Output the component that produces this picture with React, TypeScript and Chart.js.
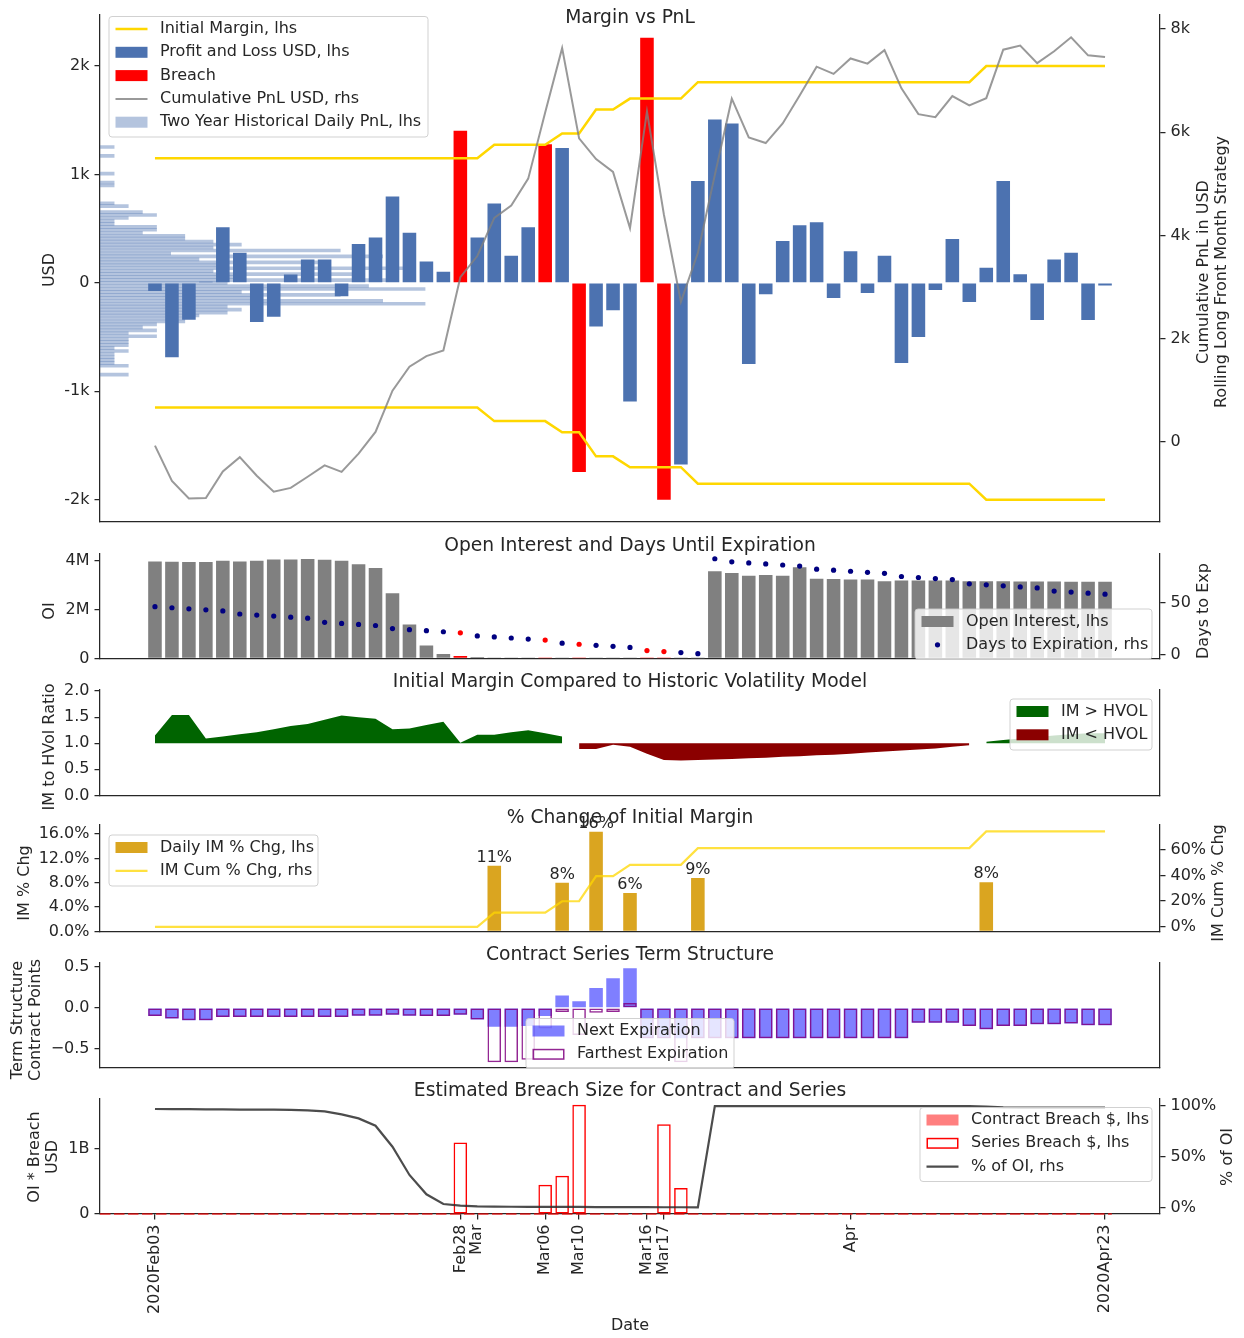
import { useEffect, useRef } from 'react';
import { Chart, registerables } from 'chart.js';

Chart.register(...registerables);

const FONT = "'DejaVu Sans', 'Liberation Sans', sans-serif";
const TEXT = '#262626';
const AXIS = '#262626';
const TICK_PX = 16;
const TITLE_PX = 18.7;
const LEFT_W = 100;
const RIGHT_W = 84;
const X_MIN = -3.24;
const X_MAX = 59.24;

// ---------------- trading calendar ----------------
const tradeDates = [
  '2020-02-03', '2020-02-04', '2020-02-05', '2020-02-06', '2020-02-07',
  '2020-02-10', '2020-02-11', '2020-02-12', '2020-02-13', '2020-02-14',
  '2020-02-18', '2020-02-19', '2020-02-20', '2020-02-21',
  '2020-02-24', '2020-02-25', '2020-02-26', '2020-02-27', '2020-02-28',
  '2020-03-02', '2020-03-03', '2020-03-04', '2020-03-05', '2020-03-06',
  '2020-03-09', '2020-03-10', '2020-03-11', '2020-03-12', '2020-03-13',
  '2020-03-16', '2020-03-17', '2020-03-18', '2020-03-19', '2020-03-20',
  '2020-03-23', '2020-03-24', '2020-03-25', '2020-03-26', '2020-03-27',
  '2020-03-30', '2020-03-31',
  '2020-04-01', '2020-04-02', '2020-04-03',
  '2020-04-06', '2020-04-07', '2020-04-08', '2020-04-09',
  '2020-04-13', '2020-04-14', '2020-04-15', '2020-04-16', '2020-04-17',
  '2020-04-20', '2020-04-21', '2020-04-22', '2020-04-23',
];

const breachDates = ['2020-02-28', '2020-03-06', '2020-03-10', '2020-03-16', '2020-03-17'];

const xTickDates: [string, string][] = [
  ['2020-02-03', '2020Feb03'],
  ['2020-02-28', 'Feb28'],
  ['2020-03-02', 'Mar'],
  ['2020-03-06', 'Mar06'],
  ['2020-03-10', 'Mar10'],
  ['2020-03-16', 'Mar16'],
  ['2020-03-17', 'Mar17'],
  ['2020-04-01', 'Apr'],
  ['2020-04-23', '2020Apr23'],
];

// ---------------- margin vs pnl ----------------
const pnlUsd = [
  -75, -686, -340, 10, 513, 278, -361, -312, 77, 216,
  216, -124, 358, 420, 797, 463, 198, 102, 1403, 420,
  732, 250, 513, 1279, 1245, -1745, -402, -253, -1094, 2261,
  -2000, -1675, 939, 1508, 1470, -748, -105, 386, 531, 559,
  -139, 293, -93, 250, -738, -500, -65, 405, -176, 139,
  939, 80, -343, 216, 278, -343, -25,
];

const initialMarginUsd = [
  1149, 1149, 1149, 1149, 1149, 1149, 1149, 1149, 1149, 1149,
  1149, 1149, 1149, 1149, 1149, 1149, 1149, 1149, 1149, 1149,
  1275, 1275, 1275, 1275, 1378, 1378, 1600, 1600, 1700, 1700,
  1700, 1700, 1852, 1852, 1852, 1852, 1852, 1852, 1852, 1852,
  1852, 1852, 1852, 1852, 1852, 1852, 1852, 1852, 1852, 2000,
  2000, 2000, 2000, 2000, 2000, 2000, 2000,
];

const cumPnlUsd = [
  -75, -760, -1100, -1090, -575, -300, -660, -970, -895, -680,
  -460, -585, -230, 190, 990, 1455, 1660, 1770, 3190, 3600,
  4340, 4580, 5100, 6380, 7630, 5880, 5480, 5230, 4140, 6400,
  4400, 2710, 3660, 5170, 6650, 5900, 5790, 6170, 6710, 7270,
  7130, 7430, 7330, 7590, 6850, 6350, 6290, 6700, 6520, 6660,
  7600, 7680, 7340, 7570, 7840, 7490, 7460,
];

// two-year history of daily pnl: [bin centre USD, days in bin]
const histDailyPnl: [number, number][] = [
  [1365, 1], [1275, 1], [1095, 1], [1005, 1], [975, 1], [795, 1], [765, 2],
  [705, 3], [675, 4], [645, 2], [615, 1], [585, 1], [555, 4], [525, 4],
  [495, 3], [465, 6], [435, 6], [405, 8], [375, 10], [345, 8], [315, 17],
  [285, 5], [255, 20], [225, 7], [195, 16], [165, 9], [135, 22], [105, 8],
  [75, 18], [45, 10], [15, 21], [-15, 9], [-45, 19], [-75, 23], [-105, 10],
  [-135, 17], [-165, 11], [-195, 20], [-225, 23], [-255, 9], [-285, 10],
  [-315, 9], [-345, 7], [-375, 6], [-405, 6], [-435, 4], [-465, 3],
  [-495, 4], [-525, 2], [-555, 4], [-585, 2], [-615, 2], [-645, 2],
  [-675, 1], [-705, 2], [-735, 1], [-765, 1], [-795, 1], [-825, 1],
  [-855, 2], [-945, 2],
];

// ---------------- open interest ----------------
const openInterestM = [
  3.96, 3.95, 3.94, 3.94, 3.99, 3.96, 3.99, 4.04, 4.04, 4.06,
  4.03, 3.99, 3.85, 3.69, 2.66, 1.39, 0.53, 0.18, 0.10, 0.06,
  0.04, 0.02, 0.015, 0.01, 0.008, 0.006, 0.005, 0.004, 0.003, 0.003,
  0.002, 0.002, 0.001, 3.56, 3.49, 3.38, 3.41, 3.38, 3.72, 3.25,
  3.24, 3.22, 3.22, 3.15, 3.18, 3.18, 3.18, 3.18, 3.15, 3.15,
  3.15, 3.14, 3.14, 3.14, 3.13, 3.13, 3.13,
];

const daysToExpiry = [
  46, 45, 44, 43, 42, 39, 38, 37, 36, 35,
  31, 30, 29, 28, 25, 24, 23, 22, 21, 18,
  17, 16, 15, 14, 11, 10, 9, 8, 7, 4,
  3, 2, 1, 92, 89, 88, 87, 86, 85, 82,
  81, 80, 79, 78, 75, 74, 73, 72, 68, 67,
  66, 65, 64, 61, 60, 59, 58,
];

// ---------------- IM vs historic vol ----------------
const imToHvolRatio = [
  1.15, 1.54, 1.54, 1.09, 1.13, 1.17, 1.21, 1.27, 1.33, 1.37,
  1.45, 1.53, 1.50, 1.47, 1.27, 1.28, 1.35, 1.41, 1.01, 1.16,
  1.16, 1.21, 1.25, 1.19, 1.13, 0.89, 0.89, 0.97, 0.93, 0.80,
  0.68, 0.67, 0.68, 0.69, 0.70, 0.71, 0.72, 0.74, 0.75, 0.77,
  0.78, 0.80, 0.82, 0.84, 0.86, 0.88, 0.90, 0.93, 0.96, 1.03,
  1.06, 1.09, 1.12, 1.15, 1.17, 1.19, 1.19,
];

// ---------------- % change of IM ----------------
const dailyImChgPct = [
  0, 0, 0, 0, 0, 0, 0, 0, 0, 0,
  0, 0, 0, 0, 0, 0, 0, 0, 0, 0,
  10.8, 0, 0, 0, 8.0, 0, 16.4, 0, 6.3, 0,
  0, 0, 8.8, 0, 0, 0, 0, 0, 0, 0,
  0, 0, 0, 0, 0, 0, 0, 0, 0, 8.1,
  0, 0, 0, 0, 0, 0, 0,
];

const imCumChgPct = [
  0, 0, 0, 0, 0, 0, 0, 0, 0, 0,
  0, 0, 0, 0, 0, 0, 0, 0, 0, 0,
  11.0, 11.0, 11.0, 11.0, 19.9, 19.9, 39.4, 39.4, 48.3, 48.3,
  48.3, 48.3, 61.3, 61.3, 61.3, 61.3, 61.3, 61.3, 61.3, 61.3,
  61.3, 61.3, 61.3, 61.3, 61.3, 61.3, 61.3, 61.3, 61.3, 74.3,
  74.3, 74.3, 74.3, 74.3, 74.3, 74.3, 74.3,
];

// ---------------- term structure ----------------
const termNextPts = [
  -0.10, -0.13, -0.15, -0.15, -0.11, -0.11, -0.11, -0.11, -0.11, -0.11,
  -0.11, -0.11, -0.095, -0.095, -0.085, -0.095, -0.10, -0.10, -0.085, -0.14,
  -0.23, -0.23, -0.22, -0.10, 0.15, 0.08, 0.24, 0.36, 0.48, -0.37,
  -0.37, -0.37, -0.37, -0.37, -0.37, -0.37, -0.37, -0.37, -0.37, -0.37,
  -0.37, -0.37, -0.37, -0.37, -0.37, -0.18, -0.18, -0.18, -0.22, -0.26,
  -0.22, -0.22, -0.20, -0.20, -0.19, -0.21, -0.21,
];

const termFarPts = [
  -0.10, -0.13, -0.15, -0.15, -0.11, -0.11, -0.11, -0.11, -0.11, -0.11,
  -0.11, -0.11, -0.095, -0.095, -0.085, -0.095, -0.10, -0.10, -0.085, -0.14,
  -0.66, -0.66, -0.63, -0.25, -0.05, -0.33, -0.06, -0.05, 0.06, -0.37,
  -0.37, -0.66, -0.37, -0.37, -0.37, -0.37, -0.37, -0.37, -0.37, -0.37,
  -0.37, -0.37, -0.37, -0.37, -0.37, -0.18, -0.18, -0.18, -0.22, -0.26,
  -0.22, -0.22, -0.20, -0.20, -0.19, -0.21, -0.21,
];

// ---------------- breach size ----------------
const contractBreachBn = [
  0, 0, 0, 0, 0, 0, 0, 0, 0, 0,
  0, 0, 0, 0, 0, 0, 0, 0, 0, 0,
  0, 0, 0, 0, 0, 0, 0, 0, 0, 0,
  0, 0, 0, 0, 0, 0, 0, 0, 0, 0,
  0, 0, 0, 0, 0, 0, 0, 0, 0, 0,
  0, 0, 0, 0, 0, 0, 0,
];

const seriesBreachBn = [
  0, 0, 0, 0, 0, 0, 0, 0, 0, 0,
  0, 0, 0, 0, 0, 0, 0, 0, 1.10, 0,
  0, 0, 0, 0.45, 0.59, 1.68, 0, 0, 0, 0,
  1.38, 0.40, 0, 0, 0, 0, 0, 0, 0, 0,
  0, 0, 0, 0, 0, 0, 0, 0, 0, 0,
  0, 0, 0, 0, 0, 0, 0,
];

const pctOfOpenInterest = [
  97.1, 97.0, 97.0, 96.8, 96.8, 96.5, 96.5, 96.5, 96.2, 95.8,
  94.8, 91.8, 87.9, 80.7, 60.1, 32.4, 13.4, 3.9, 2.3, 1.6,
  1.4, 1.2, 1.1, 1.0, 1.0, 1.0, 0.9, 0.9, 0.9, 0.8,
  0.7, 0.7, 0.6, 100, 100, 100, 100, 100, 100, 100,
  100, 100, 100, 100, 100, 100, 100, 100, 100, 99.5,
  98.7, 98.5, 98.5, 98.5, 98.5, 98.5, 98.5,
];

// ---------------- colours ----------------
const GOLD = '#ffd700';
const PNL_BLUE = '#4c72b0';
const BREACH_RED = '#ff0000';
const HIST_BLUE = 'rgba(76,114,176,0.42)';
const CUM_GRAY = 'rgba(128,128,128,0.8)';

// ---------------- helpers ----------------
type AnyObj = Record<string, any>;

const xy = (arr: (number | null)[]) => arr.map((v, i) => ({ x: i, y: v }));
const isBreach = tradeDates.map((d) => breachDates.includes(d));
const xTickIdx = xTickDates.map(([d]) => tradeDates.indexOf(d));
const xTickText = new Map<number, string>(xTickDates.map(([d, t]) => [tradeDates.indexOf(d), t]));

function xAxis(showLabels: boolean, height: number): AnyObj {
  return {
    type: 'linear',
    position: 'bottom',
    min: X_MIN,
    max: X_MAX,
    offset: false,
    z: 1,
    grid: { display: showLabels, offset: false, drawOnChartArea: false, drawTicks: true, tickLength: 5.5, color: AXIS, lineWidth: 1.25 },
    border: { display: true, color: AXIS, width: 1.25 },
    ticks: {
      display: showLabels,
      autoSkip: false,
      minRotation: 90,
      maxRotation: 90,
      padding: 5,
      color: TEXT,
      font: { size: TICK_PX, family: FONT },
      callback: (v: number) => xTickText.get(v) ?? '',
    },
    afterBuildTicks: (s: AnyObj) => {
      s.ticks = xTickIdx.map((v) => ({ value: v }));
    },
    afterFit: (s: AnyObj) => {
      s.height = height;
    },
  };
}

function yAxis(position: 'left' | 'right', min: number, max: number, ticks: number[] | null, fmt?: (v: number) => string): AnyObj {
  const cfg: AnyObj = {
    type: 'linear',
    position,
    min,
    max,
    z: 1,
    grid: { display: !!ticks, drawOnChartArea: false, drawTicks: true, tickLength: 5.5, color: AXIS, lineWidth: 1.25 },
    border: { display: true, color: AXIS, width: 1.25 },
    ticks: {
      display: !!ticks,
      padding: 5,
      color: TEXT,
      font: { size: TICK_PX, family: FONT },
      callback: (v: number) => (fmt ? fmt(v) : String(v)),
    },
    afterFit: (s: AnyObj) => {
      s.width = position === 'left' ? LEFT_W : RIGHT_W;
    },
  };
  if (ticks) {
    cfg.afterBuildTicks = (s: AnyObj) => {
      s.ticks = ticks.map((v) => ({ value: v }));
    };
  }
  return cfg;
}

function baseOptions(padTop: number, padBottom: number, scales: AnyObj): AnyObj {
  return {
    responsive: false,
    maintainAspectRatio: false,
    animation: false,
    events: [],
    layout: { autoPadding: false, padding: { top: padTop, bottom: padBottom, left: 0, right: 0 } },
    plugins: { legend: { display: false }, tooltip: { enabled: false }, title: { display: false } },
    scales,
  };
}

type Txt = { text: string; x: number; y: number; rot?: boolean; size?: number };
type LegItem = { kind: 'line' | 'patch' | 'outline' | 'dot'; color: string; label: string; width?: number };
type Leg = { x: number; y: number; w: number; h: number; items: LegItem[] };

function drawLegend(ctx: CanvasRenderingContext2D, L: Leg, top: number) {
  const x0 = L.x;
  const y0 = L.y - top;
  const r = 3;
  ctx.save();
  ctx.beginPath();
  ctx.moveTo(x0 + r, y0);
  ctx.lineTo(x0 + L.w - r, y0);
  ctx.quadraticCurveTo(x0 + L.w, y0, x0 + L.w, y0 + r);
  ctx.lineTo(x0 + L.w, y0 + L.h - r);
  ctx.quadraticCurveTo(x0 + L.w, y0 + L.h, x0 + L.w - r, y0 + L.h);
  ctx.lineTo(x0 + r, y0 + L.h);
  ctx.quadraticCurveTo(x0, y0 + L.h, x0, y0 + L.h - r);
  ctx.lineTo(x0, y0 + r);
  ctx.quadraticCurveTo(x0, y0, x0 + r, y0);
  ctx.closePath();
  ctx.fillStyle = 'rgba(255,255,255,0.8)';
  ctx.fill();
  ctx.strokeStyle = 'rgba(204,204,204,0.9)';
  ctx.lineWidth = 1;
  ctx.stroke();

  L.items.forEach((it, i) => {
    const cy = y0 + 12.5 + i * 23.3;
    const hx = x0 + 6.5;
    const hw = 32;
    if (it.kind === 'line') {
      ctx.beginPath();
      ctx.strokeStyle = it.color;
      ctx.lineWidth = it.width ?? 2.5;
      ctx.moveTo(hx, cy);
      ctx.lineTo(hx + hw, cy);
      ctx.stroke();
    } else if (it.kind === 'patch') {
      ctx.fillStyle = it.color;
      ctx.fillRect(hx, cy - 5.5, hw, 11);
    } else if (it.kind === 'outline') {
      ctx.strokeStyle = it.color;
      ctx.lineWidth = 1.5;
      ctx.strokeRect(hx + 0.75, cy - 4.75, hw - 1.5, 9.5);
    } else {
      ctx.beginPath();
      ctx.fillStyle = it.color;
      ctx.arc(hx + hw / 2, cy, 2.6, 0, Math.PI * 2);
      ctx.fill();
    }
    ctx.fillStyle = TEXT;
    ctx.font = `${TICK_PX}px ${FONT}`;
    ctx.textAlign = 'left';
    ctx.textBaseline = 'middle';
    ctx.fillText(it.label, x0 + 51, cy);
  });
  ctx.restore();
}

function decor(top: number, texts: Txt[], legend?: Leg) {
  return {
    id: 'decor',
    afterDraw(chart: AnyObj) {
      const ctx: CanvasRenderingContext2D = chart.ctx;
      ctx.save();
      ctx.fillStyle = TEXT;
      for (const t of texts) {
        ctx.save();
        ctx.font = `${t.size ?? TICK_PX}px ${FONT}`;
        ctx.textAlign = 'center';
        ctx.textBaseline = 'middle';
        ctx.translate(t.x, t.y - top);
        if (t.rot) ctx.rotate(-Math.PI / 2);
        ctx.fillText(t.text, 0, 0);
        ctx.restore();
      }
      if (legend) drawLegend(ctx, legend, top);
      ctx.restore();
    },
  };
}

// labels above the daily IM change bars
const barValueLabels = {
  id: 'barValueLabels',
  afterDatasetsDraw(chart: AnyObj) {
    const meta = chart.getDatasetMeta(0);
    const ctx: CanvasRenderingContext2D = chart.ctx;
    ctx.save();
    ctx.font = `${TICK_PX}px ${FONT}`;
    ctx.fillStyle = TEXT;
    ctx.textAlign = 'center';
    ctx.textBaseline = 'bottom';
    meta.data.forEach((el: AnyObj, i: number) => {
      const v = dailyImChgPct[i];
      if (!v) return;
      ctx.fillText(`${Math.round(v)}%`, el.x, el.y);
    });
    ctx.restore();
  },
};

// dashed zero reference on the breach panel
const zeroDash = {
  id: 'zeroDash',
  beforeDatasetsDraw(chart: AnyObj) {
    const { ctx, chartArea, scales } = chart;
    const y = scales.y.getPixelForValue(0);
    const xEnd = scales.x.getPixelForValue(tradeDates.length - 1 + 0.4);
    ctx.save();
    ctx.setLineDash([10.5, 3.5]);
    ctx.strokeStyle = 'rgba(255,0,0,0.75)';
    ctx.lineWidth = 1.5;
    ctx.beginPath();
    ctx.moveTo(chartArea.left, y);
    ctx.lineTo(xEnd, y);
    ctx.stroke();
    ctx.restore();
  },
};

const kFmt = (v: number) => (v === 0 ? '0' : `${v / 1000}k`);

const PNL_MIN = -2200;
const PNL_MAX = 2475;

const LBL_IM = 'Initial Margin, lhs';
const LBL_PNL = 'Profit and Loss USD, lhs';
const LBL_BREACH = 'Breach';
const LBL_CUM = 'Cumulative PnL USD, rhs';
const LBL_HIST = 'Two Year Historical Daily PnL, lhs';

type Panel = { top: number; height: number; make: () => AnyObj };

const panels: Panel[] = [
  {
    top: 0,
    height: 536,
    make: () => ({
      type: 'bar',
      data: {
        datasets: [
          {
            label: LBL_HIST,
            type: 'bar',
            indexAxis: 'y',
            xAxisID: 'xh',
            yAxisID: 'yh',
            data: histDailyPnl.map(([v, c]) => ({ x: c, y: v })),
            backgroundColor: HIST_BLUE,
            borderWidth: 0,
            barPercentage: 1,
            categoryPercentage: 1,
            grouped: false,
            order: 10,
          },
          {
            label: LBL_PNL,
            type: 'bar',
            xAxisID: 'x',
            yAxisID: 'y',
            data: xy(pnlUsd.map((v, i) => (isBreach[i] ? null : v))),
            backgroundColor: PNL_BLUE,
            barPercentage: 0.8,
            categoryPercentage: 1,
            grouped: false,
            order: 5,
          },
          {
            label: LBL_BREACH,
            type: 'bar',
            xAxisID: 'x',
            yAxisID: 'y',
            data: xy(pnlUsd.map((v, i) => (isBreach[i] ? v : null))),
            backgroundColor: BREACH_RED,
            barPercentage: 0.8,
            categoryPercentage: 1,
            grouped: false,
            order: 4,
          },
          {
            label: LBL_IM,
            type: 'line',
            xAxisID: 'x',
            yAxisID: 'y',
            data: xy(initialMarginUsd),
            borderColor: GOLD,
            borderWidth: 2.5,
            pointRadius: 0,
            fill: false,
            tension: 0,
            order: 2,
          },
          {
            label: LBL_IM + ' (short)',
            type: 'line',
            xAxisID: 'x',
            yAxisID: 'y',
            data: xy(initialMarginUsd.map((v) => -v)),
            borderColor: GOLD,
            borderWidth: 2.5,
            pointRadius: 0,
            fill: false,
            tension: 0,
            order: 2,
          },
          {
            label: LBL_CUM,
            type: 'line',
            xAxisID: 'x',
            yAxisID: 'y2',
            data: xy(cumPnlUsd),
            borderColor: CUM_GRAY,
            borderWidth: 2,
            pointRadius: 0,
            fill: false,
            tension: 0,
            order: 1,
          },
        ],
      },
      options: baseOptions(9, 5, {
        x: xAxis(false, 0),
        xh: { type: 'linear', display: false, min: 0, max: 75, offset: false },
        y: yAxis('left', PNL_MIN, PNL_MAX, [-2000, -1000, 0, 1000, 2000], kFmt),
        yh: { type: 'linear', display: false, min: PNL_MIN, max: PNL_MAX },
        y2: yAxis('right', -1545, 8280, [0, 2000, 4000, 6000, 8000], kFmt),
      }),
      plugins: [
        decor(
          0,
          [
            { text: 'Margin vs PnL', x: 630, y: 18, size: TITLE_PX },
            { text: 'USD', x: 50, y: 270, rot: true },
            { text: 'Cumulative PnL in USD', x: 1204, y: 272, rot: true },
            { text: 'Rolling Long Front Month Strategy', x: 1222, y: 272, rot: true },
          ],
          {
            x: 109,
            y: 16.5,
            w: 319,
            h: 120.5,
            items: [
              { kind: 'line', color: GOLD, label: LBL_IM },
              { kind: 'patch', color: PNL_BLUE, label: LBL_PNL },
              { kind: 'patch', color: BREACH_RED, label: LBL_BREACH },
              { kind: 'line', color: CUM_GRAY, label: LBL_CUM, width: 2 },
              { kind: 'patch', color: HIST_BLUE, label: LBL_HIST },
            ],
          }
        ),
      ],
    }),
  },
  {
    top: 534,
    height: 139,
    make: () => ({
      type: 'bar',
      data: {
        datasets: [
          {
            label: 'Open Interest, lhs',
            type: 'bar',
            xAxisID: 'x',
            yAxisID: 'y',
            data: xy(openInterestM),
            backgroundColor: isBreach.map((b) => (b ? BREACH_RED : '#808080')),
            barPercentage: 0.8,
            categoryPercentage: 1,
            grouped: false,
            order: 5,
          },
          {
            label: 'Days to Expiration, rhs',
            type: 'line',
            xAxisID: 'x',
            yAxisID: 'y2',
            data: xy(daysToExpiry),
            showLine: false,
            pointRadius: 2.6,
            pointBorderWidth: 0,
            pointBackgroundColor: isBreach.map((b) => (b ? BREACH_RED : '#000080')),
            order: 1,
          },
        ],
      },
      options: baseOptions(20, 5, {
        x: xAxis(false, 0),
        y: yAxis('left', 0, 4.265, [0, 2, 4], (v) => (v === 0 ? '0' : `${v}M`)),
        y2: yAxis('right', -3.55, 96.55, [0, 50], (v) => String(v)),
      }),
      plugins: [
        decor(
          534,
          [
            { text: 'Open Interest and Days Until Expiration', x: 630, y: 546, size: TITLE_PX },
            { text: 'OI', x: 50, y: 611, rot: true },
            { text: 'Days to Exp', x: 1204, y: 611, rot: true },
          ],
          {
            x: 915,
            y: 609,
            w: 237,
            h: 50,
            items: [
              { kind: 'patch', color: '#808080', label: 'Open Interest, lhs' },
              { kind: 'dot', color: '#000080', label: 'Days to Expiration, rhs' },
            ],
          }
        ),
      ],
    }),
  },
  {
    top: 671,
    height: 139,
    make: () => ({
      type: 'line',
      data: {
        datasets: [
          {
            label: 'IM > HVOL',
            xAxisID: 'x',
            yAxisID: 'y',
            data: xy(imToHvolRatio.map((v) => (v >= 1 ? v : null))),
            fill: { value: 1 },
            backgroundColor: '#006400',
            borderWidth: 0,
            pointRadius: 0,
            tension: 0,
          },
          {
            label: 'IM < HVOL',
            xAxisID: 'x',
            yAxisID: 'y',
            data: xy(imToHvolRatio.map((v) => (v < 1 ? v : null))),
            fill: { value: 1 },
            backgroundColor: '#8b0000',
            borderWidth: 0,
            pointRadius: 0,
            tension: 0,
          },
        ],
      },
      options: baseOptions(19, 5, {
        x: xAxis(false, 0),
        y: yAxis('left', 0, 2.02, [0, 0.5, 1, 1.5, 2], (v) => v.toFixed(1)),
        y2: yAxis('right', 0, 1, null),
      }),
      plugins: [
        decor(
          671,
          [
            { text: 'Initial Margin Compared to Historic Volatility Model', x: 630, y: 682, size: TITLE_PX },
            { text: 'IM to HVol Ratio', x: 50, y: 747, rot: true },
          ],
          {
            x: 1010,
            y: 699,
            w: 142,
            h: 51,
            items: [
              { kind: 'patch', color: '#006400', label: 'IM > HVOL' },
              { kind: 'patch', color: '#8b0000', label: 'IM < HVOL' },
            ],
          }
        ),
      ],
    }),
  },
  {
    top: 806,
    height: 140,
    make: () => ({
      type: 'bar',
      data: {
        datasets: [
          {
            label: 'Daily IM % Chg, lhs',
            type: 'bar',
            xAxisID: 'x',
            yAxisID: 'y',
            data: xy(dailyImChgPct.map((v) => (v ? v : null))),
            backgroundColor: '#daa520',
            barPercentage: 0.8,
            categoryPercentage: 1,
            grouped: false,
            order: 5,
          },
          {
            label: 'IM Cum % Chg, rhs',
            type: 'line',
            xAxisID: 'x',
            yAxisID: 'y2',
            data: xy(imCumChgPct),
            borderColor: 'rgba(255,215,0,0.75)',
            borderWidth: 2.2,
            pointRadius: 0,
            fill: false,
            tension: 0,
            order: 1,
          },
        ],
      },
      options: baseOptions(19, 5, {
        x: xAxis(false, 0),
        y: yAxis('left', 0, 17.5, [0, 4, 8, 12, 16], (v) => `${v.toFixed(1)}%`),
        y2: yAxis('right', -3.6, 79.3, [0, 20, 40, 60], (v) => `${v}%`),
      }),
      plugins: [
        barValueLabels,
        decor(
          806,
          [
            { text: '% Change of Initial Margin', x: 630, y: 818, size: TITLE_PX },
            { text: 'IM % Chg', x: 25, y: 883, rot: true },
            { text: 'IM Cum % Chg', x: 1219, y: 883, rot: true },
          ],
          {
            x: 109,
            y: 835,
            w: 209,
            h: 51,
            items: [
              { kind: 'patch', color: '#daa520', label: 'Daily IM % Chg, lhs' },
              { kind: 'line', color: 'rgba(255,215,0,0.75)', label: 'IM Cum % Chg, rhs', width: 2.2 },
            ],
          }
        ),
      ],
    }),
  },
  {
    top: 944,
    height: 138,
    make: () => ({
      type: 'bar',
      data: {
        datasets: [
          {
            label: 'Next Expiration',
            type: 'bar',
            xAxisID: 'x',
            yAxisID: 'y',
            data: xy(termNextPts),
            backgroundColor: 'rgba(0,0,255,0.5)',
            barPercentage: 0.8,
            categoryPercentage: 1,
            grouped: false,
            order: 5,
          },
          {
            label: 'Farthest Expiration',
            type: 'bar',
            xAxisID: 'x',
            yAxisID: 'y',
            data: xy(termFarPts),
            backgroundColor: 'rgba(0,0,0,0)',
            borderColor: 'rgba(128,0,128,0.85)',
            borderWidth: 1.5,
            borderSkipped: false,
            barPercentage: 0.8,
            categoryPercentage: 1,
            grouped: false,
            order: 1,
          },
        ],
      },
      options: baseOptions(19, 5, {
        x: xAxis(false, 0),
        y: yAxis('left', -0.722, 0.544, [-0.5, 0, 0.5], (v) => (v < 0 ? `\u2212${Math.abs(v).toFixed(1)}` : v.toFixed(1))),
        y2: yAxis('right', 0, 1, null),
      }),
      plugins: [
        decor(
          944,
          [
            { text: 'Contract Series Term Structure', x: 630, y: 955, size: TITLE_PX },
            { text: 'Term Structure', x: 18, y: 1020, rot: true },
            { text: 'Contract Points', x: 36, y: 1020, rot: true },
          ],
          {
            x: 526,
            y: 1018.5,
            w: 208,
            h: 50,
            items: [
              { kind: 'patch', color: 'rgba(0,0,255,0.5)', label: 'Next Expiration' },
              { kind: 'outline', color: 'rgba(128,0,128,0.85)', label: 'Farthest Expiration' },
            ],
          }
        ),
      ],
    }),
  },
  {
    top: 1078,
    height: 260,
    make: () => ({
      type: 'bar',
      data: {
        datasets: [
          {
            label: 'Contract Breach $, lhs',
            type: 'bar',
            xAxisID: 'x',
            yAxisID: 'y',
            data: xy(contractBreachBn),
            backgroundColor: 'rgba(255,0,0,0.5)',
            inflateAmount: 0,
            barPercentage: 0.8,
            categoryPercentage: 1,
            grouped: false,
            order: 6,
          },
          {
            label: 'Series Breach $, lhs',
            type: 'bar',
            xAxisID: 'x',
            yAxisID: 'y',
            data: xy(seriesBreachBn.map((v) => (v ? v : null))),
            backgroundColor: 'rgba(0,0,0,0)',
            borderColor: BREACH_RED,
            borderWidth: 1.5,
            borderSkipped: false,
            barPercentage: 0.8,
            categoryPercentage: 1,
            grouped: false,
            order: 5,
          },
          {
            label: '% of OI, rhs',
            type: 'line',
            xAxisID: 'x',
            yAxisID: 'y2',
            data: xy(pctOfOpenInterest),
            borderColor: 'rgba(45,45,45,0.85)',
            borderWidth: 2.2,
            pointRadius: 0,
            fill: false,
            tension: 0,
            order: 1,
          },
        ],
      },
      options: baseOptions(21, 0, {
        x: xAxis(true, 124),
        y: yAxis('left', 0, 1.77, [0, 1], (v) => (v === 0 ? '0' : `${v}B`)),
        y2: yAxis('right', -5.9, 106.9, [0, 50, 100], (v) => `${v}%`),
      }),
      plugins: [
        zeroDash,
        decor(
          1078,
          [
            { text: 'Estimated Breach Size for Contract and Series', x: 630, y: 1091, size: TITLE_PX },
            { text: 'OI * Breach', x: 35, y: 1157, rot: true },
            { text: 'USD', x: 53, y: 1157, rot: true },
            { text: '% of OI', x: 1228, y: 1157, rot: true },
            { text: 'Date', x: 630, y: 1326 },
          ],
          {
            x: 920,
            y: 1107.5,
            w: 232,
            h: 74,
            items: [
              { kind: 'patch', color: 'rgba(255,0,0,0.5)', label: 'Contract Breach $, lhs' },
              { kind: 'outline', color: BREACH_RED, label: 'Series Breach $, lhs' },
              { kind: 'line', color: 'rgba(45,45,45,0.85)', label: '% of OI, rhs', width: 2.2 },
            ],
          }
        ),
      ],
    }),
  },
];

export default function App() {
  const refs = useRef<(HTMLCanvasElement | null)[]>([]);

  useEffect(() => {
    Chart.defaults.font.family = FONT;
    Chart.defaults.color = TEXT;
    const charts = panels.map((p, i) => new Chart(refs.current[i] as HTMLCanvasElement, p.make() as any));
    return () => charts.forEach((c) => c.destroy());
  }, []);

  return (
    <div style={{ position: 'absolute', left: 0, top: 0, width: 1244, height: 1338, background: '#ffffff' }}>
      {panels.map((p, i) => (
        <canvas
          key={i}
          ref={(el) => {
            refs.current[i] = el;
          }}
          width={1244}
          height={p.height}
          style={{ position: 'absolute', left: 0, top: p.top, width: 1244, height: p.height }}
        />
      ))}
    </div>
  );
}
